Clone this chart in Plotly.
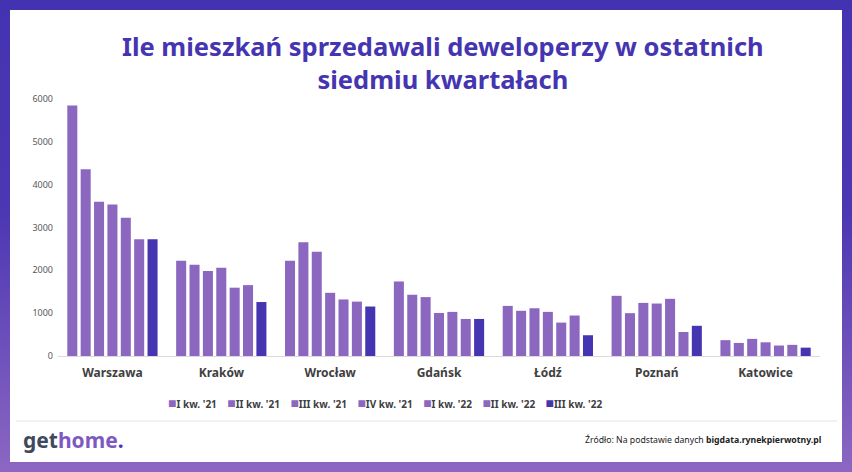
import base64
import plotly.graph_objects as go

# ---- data ----
cities = ["Warszawa", "Kraków", "Wrocław", "Gdańsk", "Łódź", "Poznań", "Katowice"]
quarters = ["I kw. '21", "II kw. '21", "III kw. '21", "IV kw. '21", "I kw. '22", "II kw. '22", "III kw. '22"]
q1_21 = [5850, 2225, 2225, 1740, 1170, 1405, 370]
q2_21 = [4360, 2130, 2655, 1430, 1055, 1000, 305]
q3_21 = [3600, 1985, 2435, 1375, 1115, 1240, 400]
q4_21 = [3535, 2060, 1475, 1005, 1030, 1225, 320]
q1_22 = [3230, 1595, 1320, 1030, 780, 1335, 245]
q2_22 = [2725, 1655, 1270, 865, 945, 560, 260]
q3_22 = [2725, 1260, 1155, 865, 485, 705, 195]
series = [q1_21, q2_21, q3_21, q4_21, q1_22, q2_22, q3_22]
y_ticks = [0, 1000, 2000, 3000, 4000, 5000, 6000]

title = "Ile mieszkań sprzedawali deweloperzy w ostatnich<br>siedmiu kwartałach"
source_text = "Źródło: Na podstawie danych <b>bigdata.rynekpierwotny.pl</b>"

# ---- style ----
W_FIG, H_FIG = 852, 472
L, R, T, B = 58, 32, 99, 116
PW, PH = W_FIG - L - R, H_FIG - T - B
LIGHT = "#8c67c0"
DARK = "#4535b0"
colors = [LIGHT] * 6 + [DARK]
FONT = "Noto Sans"


def px_x(x):
    return (x - L) / PW


def px_y(y):
    return (H_FIG - B - y) / PH


fig = go.Figure()
for name, vals, col in zip(quarters, series, colors):
    fig.add_trace(go.Bar(x=cities, y=vals, name=name, marker=dict(color=col, line=dict(width=0)),
                         showlegend=False))

# background: gradient frame + white card
svg = f'''<svg xmlns="http://www.w3.org/2000/svg" width="{W_FIG}" height="{H_FIG}" viewBox="0 0 {W_FIG} {H_FIG}" preserveAspectRatio="none">
<defs><linearGradient id="g" x1="0" y1="0" x2="0" y2="1">
<stop offset="0" stop-color="#4433b1"/><stop offset="0.45" stop-color="#4c37b3"/><stop offset="1" stop-color="#8c67c2"/>
</linearGradient></defs>
<rect x="0" y="0" width="{W_FIG}" height="{H_FIG}" fill="url(#g)"/>
<rect x="10" y="10" width="832" height="452" fill="#ffffff"/>
</svg>'''
src = "data:image/svg+xml;base64," + base64.b64encode(svg.encode()).decode()
fig.add_layout_image(dict(source=src, xref="paper", yref="paper", x=px_x(0), y=px_y(0),
                          sizex=W_FIG / PW, sizey=H_FIG / PH, sizing="stretch",
                          xanchor="left", yanchor="top", layer="below"))

# separator line
fig.add_shape(type="line", xref="paper", yref="paper", x0=px_x(16), x1=px_x(837),
              y0=px_y(421), y1=px_y(421), line=dict(color="#e3e3e3", width=1))

annotations = []
# title
annotations.append(dict(text=f"<b>{title}</b>", xref="paper", yref="paper", x=px_x(443), y=px_y(62),
                        xanchor="center", yanchor="middle", showarrow=False,
                        font=dict(family=FONT, size=25.5, color=DARK), align="center"))
# legend as text
parts = []
for name, col in zip(quarters, colors):
    parts.append(f"<span style='color:{col};font-size:14px'>■</span><b>{name}</b>")
legend_text = "    ".join(parts)
annotations.append(dict(text=legend_text, xref="paper", yref="paper", x=px_x(385), y=px_y(402),
                        xanchor="center", yanchor="middle", showarrow=False,
                        font=dict(family=FONT, size=10, color="#404040")))
# logo
annotations.append(dict(text="<b><span style='color:#3e4a5b'>get</span><span style='color:#7e59c2'>home</span><span style='color:#4535b0'>.</span></b>",
                        xref="paper", yref="paper", x=px_x(21), y=px_y(440), xanchor="left", yanchor="middle",
                        showarrow=False, font=dict(family=FONT, size=21)))
# source
annotations.append(dict(text=source_text, xref="paper", yref="paper", x=px_x(823), y=px_y(440),
                        xanchor="right", yanchor="middle", showarrow=False,
                        font=dict(family=FONT, size=8.7, color="#222222")))

fig.update_layout(
    width=W_FIG, height=H_FIG,
    margin=dict(l=L, r=R, t=T, b=B),
    paper_bgcolor="rgba(0,0,0,0)", plot_bgcolor="rgba(0,0,0,0)",
    barmode="group", bargap=0.14, bargroupgap=0.25,
    annotations=annotations,
    font=dict(family=FONT),
    xaxis=dict(showline=True, linecolor="#d9d9d9", linewidth=1, ticks="", showgrid=False,
               tickfont=dict(family=FONT, size=12, color="#404040", weight="bold"),
               ticklabelstandoff=6),
    yaxis=dict(range=[0, 6000], tickvals=y_ticks, showgrid=False, zeroline=False, showline=False,
               tickfont=dict(family=FONT, size=9, color="#595959"), ticks="", ticklabelstandoff=4),
)

fig.write_html("out.html", config={"displayModeBar": False},
               post_script="document.body.style.margin='0';")
